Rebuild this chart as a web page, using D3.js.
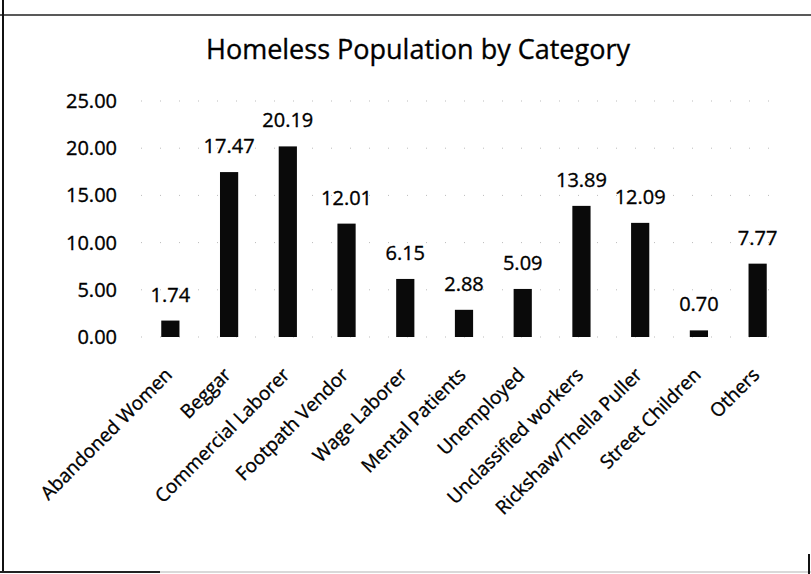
<!DOCTYPE html>
<html>
<head>
<meta charset="utf-8">
<script src="https://cdn.jsdelivr.net/npm/d3@7"></script>
<style>
  body { margin: 0; background: #fff; }
  svg { display: block; }
  text { font-family: "Open Sans", sans-serif; fill: #000; stroke: #000; stroke-width: 0.35px; }
</style>
</head>
<body>
<div id="chart"></div>
<script>
// data
var categories = ["Abandoned Women", "Beggar", "Commercial Laborer", "Footpath Vendor",
    "Wage Laborer", "Mental Patients", "Unemployed", "Unclassified workers",
    "Rickshaw/Thella Puller", "Street Children", "Others"];
var values = [1.74, 17.47, 20.19, 12.01, 6.15, 2.88, 5.09, 13.89, 12.09, 0.70, 7.77];
var yTicks = [0, 5, 10, 15, 20, 25];

var width = 811,
    height = 574;

var svg = d3.select("#chart").append("svg")
    .attr("width", width)
    .attr("height", height);

// frame of the scanned chart
var frame = svg.append("g").attr("fill", "none");
frame.append("line").attr("x1", 0).attr("x2", width).attr("y1", 15).attr("y2", 15)
    .attr("stroke", "#222").attr("stroke-width", 1.5);
frame.append("line").attr("x1", 3).attr("x2", 3).attr("y1", 0).attr("y2", 573)
    .attr("stroke", "#111").attr("stroke-width", 2);
frame.append("line").attr("x1", 0).attr("x2", 160).attr("y1", 572).attr("y2", 572)
    .attr("stroke", "#222").attr("stroke-width", 2);
frame.append("line").attr("x1", 160).attr("x2", width).attr("y1", 572).attr("y2", 572)
    .attr("stroke", "#ccc").attr("stroke-width", 1.5);
frame.append("line").attr("x1", 809).attr("x2", 809).attr("y1", 554).attr("y2", 574)
    .attr("stroke", "#111").attr("stroke-width", 2);

var x = d3.scaleBand()
    .domain(categories)
    .range([141, 787])
    .paddingInner(0.69)
    .paddingOuter(0.345);

var y = d3.scaleLinear()
    .domain([0, 25])
    .range([337, 101]);

// title
svg.append("text")
    .attr("x", 418)
    .attr("y", 59)
    .attr("text-anchor", "middle")
    .style("font-size", "27px")
    .text("Homeless Population by Category");

// faint dotted gridlines
svg.append("g")
    .selectAll("line")
    .data(yTicks)
    .enter().append("line")
    .attr("x1", 141)
    .attr("x2", 787)
    .attr("y1", function(d) { return y(d); })
    .attr("y2", function(d) { return y(d); })
    .attr("stroke", "#bbb")
    .attr("stroke-width", 1)
    .attr("stroke-dasharray", "1,18");

// y axis
var yaxis = svg.append("g")
    .attr("transform", "translate(125,0)")
    .call(d3.axisLeft(y)
        .tickValues(yTicks)
        .tickSize(0)
        .tickPadding(8)
        .tickFormat(d3.format(".2f")));
yaxis.select(".domain").remove();
yaxis.selectAll("text")
    .attr("font-family", null)
    .style("font-size", "20px");

// bars
svg.append("g")
    .selectAll("rect")
    .data(values)
    .enter().append("rect")
    .attr("x", function(d, i) { return x(categories[i]); })
    .attr("y", function(d) { return y(d); })
    .attr("width", x.bandwidth())
    .attr("height", function(d) { return y(0) - y(d); })
    .attr("fill", "#0a0a0a");

// value labels
svg.append("g")
    .selectAll("text")
    .data(values)
    .enter().append("text")
    .attr("x", function(d, i) { return x(categories[i]) + x.bandwidth() / 2; })
    .attr("y", function(d) { return y(d) - 19; })
    .attr("text-anchor", "middle")
    .style("font-size", "20px")
    .text(function(d) { return d3.format(".2f")(d); });

// x axis labels, rotated
var xaxis = svg.append("g")
    .attr("transform", "translate(0,337)")
    .call(d3.axisBottom(x).tickSize(0).tickPadding(0));
xaxis.select(".domain").remove();
xaxis.selectAll("text")
    .attr("font-family", null)
    .style("font-size", "19px")
    .attr("text-anchor", "end")
    .attr("dy", null)
    .attr("y", 0)
    .attr("transform", "translate(3,39) rotate(-45)");
</script>
</body>
</html>
